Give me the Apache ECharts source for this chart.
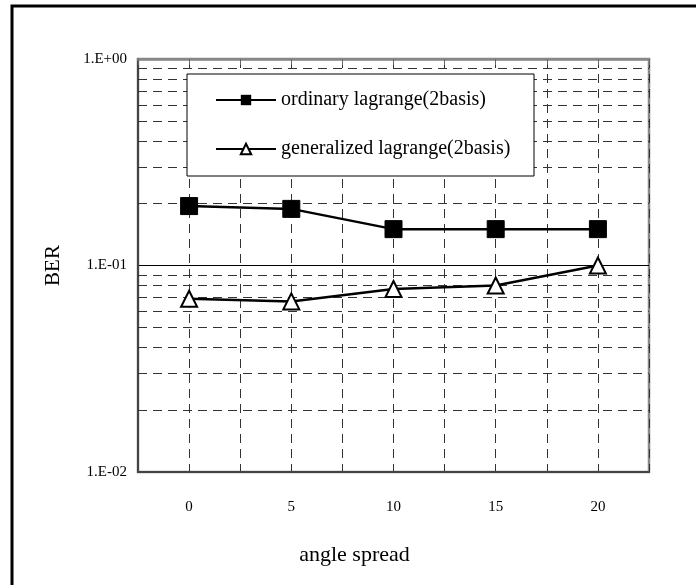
<!DOCTYPE html>
<html>
<head>
<meta charset="utf-8">
<script src="https://cdn.jsdelivr.net/npm/echarts@6/dist/echarts.min.js"></script>
<style>
  html, body { margin: 0; padding: 0; background: #fff; }
  #main { width: 696px; height: 585px; }
</style>
</head>
<body>
<div id="main"></div>
<script>
// angle spread categories
var angles = [0, 5, 10, 15, 20];
// BER values
var ordinary = [0.194, 0.188, 0.150, 0.150, 0.150];
var generalized = [0.069, 0.067, 0.077, 0.080, 0.100];
var seriesNames = ['ordinary lagrange(2basis)', 'generalized lagrange(2basis)'];
// dashed minor gridlines of the log axis
var minorLines = [0.02, 0.03, 0.04, 0.05, 0.06, 0.07, 0.08, 0.09,
                  0.2, 0.3, 0.4, 0.5, 0.6, 0.7, 0.8, 0.9];

var serif = "'Liberation Serif', 'Times New Roman', serif";
var dash = [9, 6];

function pairs(ys) {
  return angles.map(function (a, i) { return [a, ys[i]]; });
}

function expLabel(v) {
  var e = Math.round(Math.log(v) / Math.LN10);
  var s = Math.abs(e) < 10 ? '0' + Math.abs(e) : '' + Math.abs(e);
  return '1.E' + (e < 0 ? '-' : '+') + s;
}

var chart = echarts.init(document.getElementById('main'));
var option = {
  backgroundColor: '#fff',
  animation: false,
  grid: {
    left: 138, top: 59, width: 511, height: 413,
    show: true, borderColor: '#888', borderWidth: 2.5
  },
  graphic: [
    {
      type: 'rect', z: 1,
      shape: { x: 12, y: 6, width: 700, height: 600 },
      style: { fill: 'none', stroke: '#000', lineWidth: 3 }
    },
    {
      type: 'rect', z: 3,
      shape: { x: 187, y: 74, width: 347, height: 102 },
      style: { fill: '#fff', stroke: '#000', lineWidth: 1 }
    }
  ],
  legend: {
    z: 5,
    orient: 'vertical',
    left: 215, top: 90, padding: 0,
    itemWidth: 60, itemHeight: 13, itemGap: 29,
    textStyle: { fontFamily: serif, fontSize: 20, color: '#000' },
    data: seriesNames
  },
  xAxis: [
    {
      type: 'value', position: 'bottom',
      min: -2.5, max: 22.5, interval: 2.5,
      name: 'angle spread', nameLocation: 'middle', nameGap: 72,
      nameTextStyle: { fontFamily: serif, fontSize: 22, color: '#000', padding: [0, 78, 0, 0] },
      axisLine: { onZero: false, lineStyle: { color: '#444', width: 2 } },
      axisTick: { show: false },
      axisLabel: {
        margin: 28, fontFamily: serif, fontSize: 15, color: '#000',
        formatter: function (v) { return v >= 0 && v % 5 === 0 ? String(v) : ''; }
      },
      splitLine: { show: true, lineStyle: { color: '#333', width: 1, type: dash } }
    },
    {
      type: 'value', position: 'top',
      min: -2.5, max: 22.5, interval: 2.5,
      axisLine: { onZero: false, lineStyle: { color: '#888', width: 2.5 } },
      axisTick: { show: true, inside: true, length: 6, lineStyle: { color: '#666', width: 1 } },
      axisLabel: { show: false },
      splitLine: { show: false }
    }
  ],
  yAxis: {
    type: 'log', logBase: 10, min: 0.01, max: 1,
    name: 'BER', nameLocation: 'middle', nameGap: 74, nameRotate: 90,
    nameTextStyle: { fontFamily: serif, fontSize: 21, color: '#000' },
    axisLine: { show: true, onZero: false, lineStyle: { color: '#444', width: 2 } },
    axisTick: { show: false },
    axisLabel: { margin: 11, fontFamily: serif, fontSize: 15, color: '#000', formatter: expLabel },
    splitLine: { show: true, lineStyle: { color: '#000', width: 1, type: 'solid' } }
  },
  series: [
    {
      name: seriesNames[0], type: 'line', z: 4,
      data: pairs(ordinary),
      symbol: 'rect', symbolSize: 17,
      itemStyle: { color: '#000', borderColor: '#000' },
      lineStyle: { color: '#000', width: 2.5 },
      markLine: {
        silent: true, symbol: 'none', z: 1,
        label: { show: false },
        lineStyle: { color: '#333', width: 1, type: dash },
        data: minorLines.map(function (v) { return { yAxis: v }; })
      }
    },
    {
      name: seriesNames[1], type: 'line', z: 4,
      data: pairs(generalized),
      symbol: 'triangle', symbolSize: 16,
      itemStyle: { color: '#fff', borderColor: '#000', borderWidth: 2 },
      lineStyle: { color: '#000', width: 2.5 }
    }
  ]
};
chart.setOption(option);
</script>
</body>
</html>
